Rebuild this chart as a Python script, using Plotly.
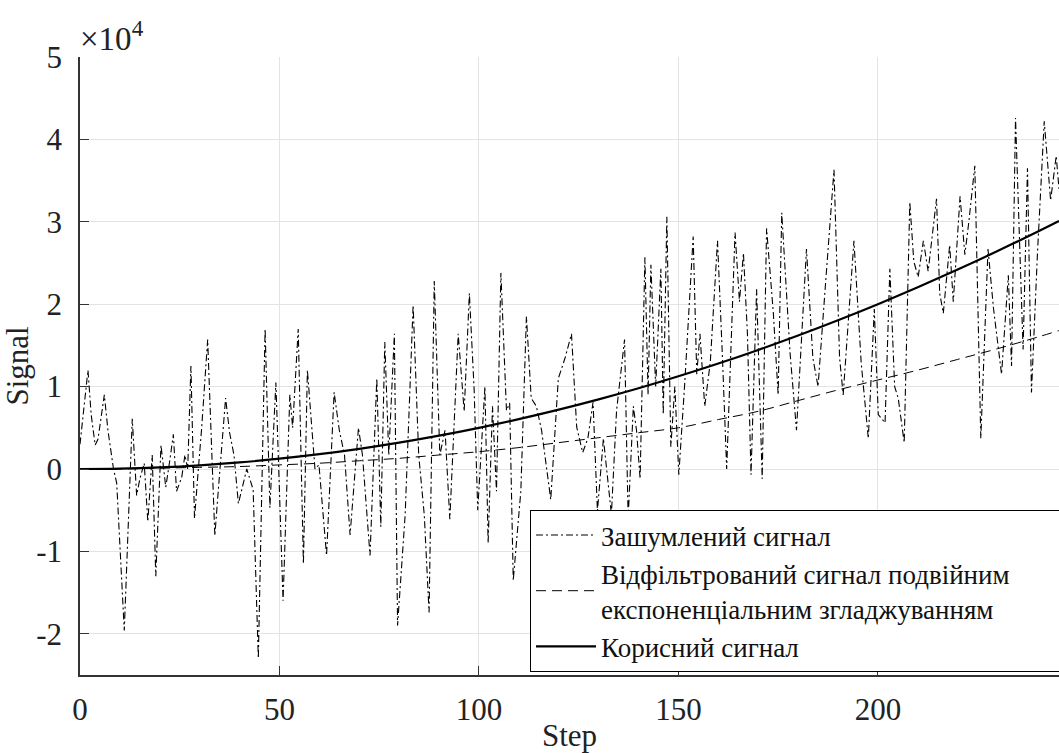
import plotly.graph_objects as go

# ---- data (signal values in units of 1e4) ----
noisy_step = [0, 2, 2.8, 3.8, 4.5, 6.1, 7, 8.4, 9.2, 11.1, 12, 13.1, 14.2, 15, 16.1, 17, 18.1, 19, 20.3, 21.5,
              22.5, 23.4, 24.2, 25.5, 26.3, 27, 27.8, 28.7, 29.5, 30.5, 32, 33.8, 34.6, 36.5, 37.5, 38.6, 39.7,
              41.8, 43.4, 44.7, 46.4, 47.6, 49.1, 50.9, 52.6, 53.3, 54.7, 56, 57, 58.9, 59.9, 61.8, 63.7, 65,
              66.3, 67.7, 69.8, 70.8, 72.7, 74.4, 75.4, 76.4, 77.4, 78.8, 79.6, 81.5, 83.5, 84.9, 86.3, 87.5,
              88.8, 90.2, 91.5, 92.7, 94.8, 96.3, 97.6, 98.8, 99.7, 101.5, 102.3, 103.4, 104.4, 105.5, 106.9,
              107.7, 108.6, 110.5, 111.9, 113.1, 114.4, 115.7, 118, 119.9, 121.6, 123.2, 124.5, 126, 127.3,
              128.6, 129.7, 131.2, 133.2, 134.5, 136.5, 137.4, 138.7, 139.5, 140.4, 141.6, 142.4, 143.1, 144.3,
              145.6, 146.2, 147.1, 148.1, 149.1, 150.1, 151.6, 153.7, 154.6, 155.4, 156.6, 158, 159.8, 161,
              162.1, 164.2, 165.3, 166.3, 167.3, 168.2, 169.6, 171, 172.1, 173.8, 175, 175.9, 178, 179.6,
              182.1, 183.7, 185, 187, 189, 190.4, 191.3, 194, 195.8, 197.6, 199.1, 200.1, 201.8, 203, 204.2,
              205.1, 206.6, 208, 209, 210.1, 211.4, 212.6, 214.7, 215.5, 216.4, 218, 218.9, 220.6, 221.8,
              222.8, 224.3, 225.8, 227.6, 229, 231, 232.7, 233.5, 234.5, 236.4, 237.5, 238.5, 240, 241.7,
              243.3, 244.7, 245.4]
noisy_val = [0.3, 1.2, 0.66, 0.29, 0.36, 0.9, 0.47, 0.0, -0.17, -1.96, -0.8, 0.61, -0.32, -0.12, 0.07, -0.64,
             0.17, -1.3, 0.29, -0.22, 0.1, 0.42, -0.27, -0.1, 0.17, 0.0, 1.25, -0.6, -0.1, 0.5, 1.57, -0.81,
             -0.3, 0.86, 0.44, 0.17, -0.42, 0.0, -0.25, -2.3, 1.7, -0.47, 1.05, -1.6, 0.9, 0.5, 1.7, -1.15,
             1.2, 0.0, 0.05, -1.05, 0.93, 0.47, 0.17, -0.8, 0.5, 0.17, -1.05, 1.1, -0.7, 1.54, 0.17, 1.64,
             -1.9, -0.56, 1.99, 0.17, -0.56, -1.74, 2.28, 0.17, 0.47, -0.61, 1.64, 0.7, 2.13, 0.96, -0.5,
             1.0, -0.9, 0.76, -0.27, 2.38, 0.71, 0.8, -1.35, -0.27, 1.85, 0.86, 0.76, 0.47, -0.37, 1.1,
             1.35, 1.64, 0.51, 0.2, 0.37, 0.81, -0.51, 0.37, -0.55, 0.71, 1.57, -0.6, 0.76, 0.47, -0.12,
             2.57, 0.9, 2.48, 1.0, 2.43, 0.66, 3.06, 0.27, 1.0, -0.07, 1.05, 2.82, 1.15, 1.64, 0.76, 1.3,
             2.77, 1.4, 0.0, 2.87, 2.03, 2.62, 1.64, -0.07, 2.18, -0.12, 2.92, 1.89, 0.9, 3.11, 1.4, 0.47,
             2.67, 1.35, 1.0, 2.33, 3.63, 1.35, 0.9, 2.77, 1.3, 0.37, 1.94, 0.66, 0.56, 2.43, 1.0, 0.86,
             0.32, 3.24, 2.52, 2.33, 2.77, 2.4, 3.28, 2.13, 1.89, 2.72, 2.03, 3.31, 2.6, 3.0, 3.68, 0.37,
             2.67, 1.94, 1.15, 2.35, 1.25, 4.26, 1.45, 3.65, 0.93, 2.62, 4.22, 3.26, 3.8, 3.4]

filt_step = [0, 10, 20, 30, 40, 50, 60, 70, 80, 90, 100, 110, 120, 130, 140, 150, 160, 170, 180, 190, 200,
             210, 220, 230, 240, 245.4]
filt_val = [0.0, 0.0, 0.01, 0.02, 0.03, 0.05, 0.07, 0.1, 0.13, 0.17, 0.21, 0.26, 0.32, 0.38, 0.44, 0.5,
            0.6, 0.7, 0.83, 0.96, 1.08, 1.2, 1.33, 1.46, 1.6, 1.68]

useful_step = [0, 10, 20, 30, 40, 50, 60, 70, 80, 90, 100, 110, 120, 130, 140, 150, 160, 170, 180, 190, 200,
               210, 220, 230, 240, 245.4]
useful_val = [0.0, 0.005, 0.02, 0.045, 0.08, 0.125, 0.18, 0.245, 0.32, 0.405, 0.5, 0.605, 0.72, 0.845,
              0.98, 1.125, 1.28, 1.445, 1.62, 1.805, 2.0, 2.205, 2.42, 2.645, 2.88, 3.01]

x_ticks = [0, 50, 100, 150, 200]
y_ticks = [-2, -1, 0, 1, 2, 3, 4, 5]
y_ticktext = ["-2", "-1", "0", "1", "2", "3", "4", "5"]

names = ["Зашумлений сигнал",
         "Відфільтрований сигнал подвійним" + "&nbsp;" * 8 + "<br>експоненціальним згладжуванням",
         "Корисний сигнал"]

FONT = "Liberation Serif, Times New Roman, serif"
W, H = 1059, 753
ml, mt, mb, mr = 80, 57, 78, 0
TICK_SIZE = 31
LEG_SIZE = 27

fig = go.Figure()
fig.add_trace(go.Scatter(x=noisy_step, y=noisy_val, mode="lines", name=names[0],
                         line=dict(color="black", width=1.1, dash="7px,3px,2px,3px")))
fig.add_trace(go.Scatter(x=filt_step, y=filt_val, mode="lines", name=names[1],
                         line=dict(color="black", width=1, dash="10px,6px", shape="spline")))
fig.add_trace(go.Scatter(x=useful_step, y=useful_val, mode="lines", name=names[2],
                         line=dict(color="black", width=2.2, shape="spline")))

plot_w = W - ml - mr
plot_h = H - mt - mb

fig.update_layout(
    width=W, height=H,
    margin=dict(l=ml, r=mr, t=mt, b=mb, pad=0, autoexpand=False),
    paper_bgcolor="white", plot_bgcolor="white",
    font=dict(family=FONT, size=TICK_SIZE, color="#222"),
    showlegend=True,
    legend=dict(
        x=(530 - ml) / plot_w, y=(H - mb - 510) / plot_h,
        xanchor="left", yanchor="top",
        bgcolor="white", bordercolor="black", borderwidth=1,
        font=dict(family=FONT, size=LEG_SIZE, color="#111"),
        tracegroupgap=0, itemwidth=60,
    ),
    xaxis=dict(
        range=[0, 245.4], tickvals=x_ticks, ticks="inside", ticklen=9, tickcolor="#333",
        showline=True, linecolor="#333", linewidth=1.5, mirror=False,
        showgrid=True, gridcolor="#e3e3e3", gridwidth=1, zeroline=False,
        tickfont=dict(family=FONT, size=TICK_SIZE), ticklabelstandoff=6,
        title=dict(text="Step", font=dict(family=FONT, size=TICK_SIZE), standoff=0),
    ),
    yaxis=dict(
        range=[-2.5, 5], tickvals=y_ticks, ticktext=y_ticktext, ticks="inside", ticklen=9, tickcolor="#333",
        showline=True, linecolor="#333", linewidth=1.5, mirror=False,
        showgrid=True, gridcolor="#e3e3e3", gridwidth=1, zeroline=False,
        tickfont=dict(family=FONT, size=TICK_SIZE), ticklabelstandoff=10,
        title=dict(text="Signal", font=dict(family=FONT, size=TICK_SIZE), standoff=6),
    ),
)

fig.add_annotation(text="×10<sup>4</sup>", xref="paper", yref="paper", x=0.0, y=1.0,
                   xanchor="left", yanchor="bottom", showarrow=False,
                   font=dict(family=FONT, size=33, color="#222"), xshift=-2, yshift=-2)

fig.write_html("out.html")
